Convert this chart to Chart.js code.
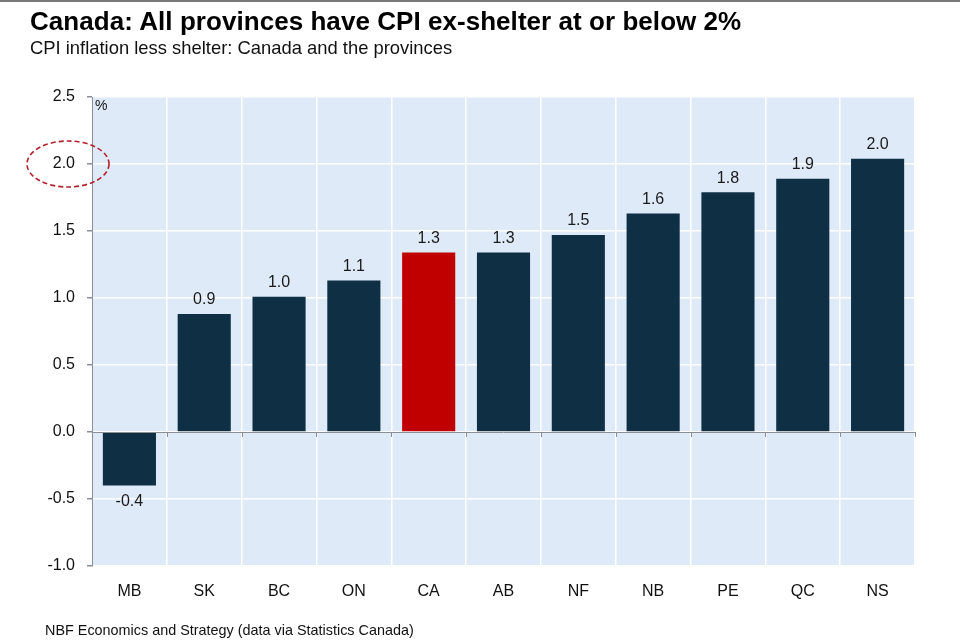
<!DOCTYPE html>
<html><head><meta charset="utf-8">
<script src="https://cdn.jsdelivr.net/npm/chart.js@4"></script>
<style>
html,body{margin:0;padding:0;background:#fff;}
#wrap{position:relative;width:960px;height:644px;overflow:hidden;font-family:"Liberation Sans",Arial,sans-serif;}
#topline{position:absolute;left:0;top:0;width:960px;height:2px;background:#777;}
#title{position:absolute;left:30px;top:6px;font-size:26px;font-weight:bold;color:#000;white-space:nowrap;letter-spacing:0.05px;}
#subtitle{position:absolute;left:30px;top:37px;font-size:18.4px;color:#111;white-space:nowrap;}
#footer{position:absolute;left:45px;top:622px;font-size:14.4px;color:#111;white-space:nowrap;}
#pct{position:absolute;left:95px;top:97px;font-size:14px;color:#111;}
canvas{position:absolute;left:0;top:0;}
</style></head>
<body><div id="wrap">
<div id="topline"></div>
<canvas id="c" width="960" height="644"></canvas>
<div id="title">Canada: All provinces have CPI ex-shelter at or below 2%</div>
<div id="subtitle">CPI inflation less shelter: Canada and the provinces</div>
<div id="pct">%</div>
<div id="footer">NBF Economics and Strategy (data via Statistics Canada)</div>
</div>
<script>
const categories = ["MB","SK","BC","ON","CA","AB","NF","NB","PE","QC","NS"];
const values = [-0.40, 0.88, 1.01, 1.13, 1.34, 1.34, 1.47, 1.63, 1.79, 1.89, 2.04];
const valueLabels = ["-0.4","0.9","1.0","1.1","1.3","1.3","1.5","1.6","1.8","1.9","2.0"];
const yTicks = [-1.0,-0.5,0.0,0.5,1.0,1.5,2.0,2.5];
const highlighted = "CA";

const NAVY = "#0f2f45", RED = "#c00000", BG = "#dfeaf9", FONT = "'Liberation Sans', Arial, sans-serif";

const decor = {
  id: "decor",
  beforeDraw(chart) {
    const {ctx, chartArea: a} = chart;
    ctx.save(); ctx.fillStyle = BG;
    ctx.fillRect(a.left, a.top, a.right - a.left, a.bottom - a.top);
    ctx.restore();
  },
  afterDatasetsDraw(chart) {
    const {ctx} = chart;
    const xs = chart.scales.x, ys = chart.scales.y;
    const meta = chart.getDatasetMeta(0);
    const y0 = ys.getPixelForValue(0);
    const step = xs.getPixelForValue(1) - xs.getPixelForValue(0);
    ctx.save();
    // zero axis line + ticks
    ctx.strokeStyle = "#8a8f96"; ctx.lineWidth = 1;
    ctx.beginPath(); ctx.moveTo(chart.chartArea.left, Math.round(y0)+0.5); ctx.lineTo(chart.chartArea.right, Math.round(y0)+0.5); ctx.stroke();
    for (let i = 1; i <= categories.length; i++) {
      const px = xs.getPixelForValue(i - 1) + step / 2;
      ctx.beginPath(); ctx.moveTo(Math.round(px)+0.5, y0); ctx.lineTo(Math.round(px)+0.5, y0 + 5); ctx.stroke();
    }
    // value labels
    ctx.fillStyle = "#1a1a1a"; ctx.font = "16px " + FONT; ctx.textAlign = "center";
    meta.data.forEach((bar, i) => {
      if (values[i] >= 0) { ctx.textBaseline = "bottom"; ctx.fillText(valueLabels[i], bar.x, bar.y - 6); }
      else { ctx.textBaseline = "top"; ctx.fillText(valueLabels[i], bar.x, bar.y + 8); }
    });
    // dashed ellipse around 2.0 tick label
    const ey = ys.getPixelForValue(2.0);
    ctx.strokeStyle = "#b3222b"; ctx.lineWidth = 1.6; ctx.setLineDash([5,3]);
    ctx.beginPath(); ctx.ellipse(68, ey, 41, 23, 0, 0, Math.PI*2); ctx.stroke();
    ctx.restore();
  }
};

new Chart(document.getElementById("c"), {
  type: "bar",
  data: {
    labels: categories,
    datasets: [{
      data: values,
      backgroundColor: categories.map(c => c === highlighted ? RED : NAVY),
      barPercentage: 0.71, categoryPercentage: 1.0, borderWidth: 0
    }]
  },
  options: {
    responsive: false, animation: false, devicePixelRatio: 1,
    layout: { padding: { top: 97, right: 45, left: 0, bottom: 0 } },
    plugins: { legend: { display: false }, tooltip: { enabled: false } },
    scales: {
      x: {
        offset: true,
        grid: { offset: true, color: "#ffffff", lineWidth: 1.5, drawTicks: false },
        border: { display: false },
        ticks: { color: "#111", font: { size: 16, family: FONT }, padding: 16 },
        afterFit(s) { s.height = 78; }
      },
      y: {
        min: -1, max: 2.5,
        afterBuildTicks(s) { s.ticks = yTicks.map(v => ({ value: v })); },
        grid: { color: "#ffffff", lineWidth: 1.5, tickColor: "#8a8f96", tickLength: 5, drawOnChartArea: true },
        border: { display: true, color: "#8a8f96", width: 1 },
        ticks: { color: "#111", font: { size: 16, family: FONT }, padding: 12, callback: v => v.toFixed(1) },
        afterFit(s) { s.width = 92; }
      }
    }
  },
  plugins: [decor]
});
</script>
</body></html>
